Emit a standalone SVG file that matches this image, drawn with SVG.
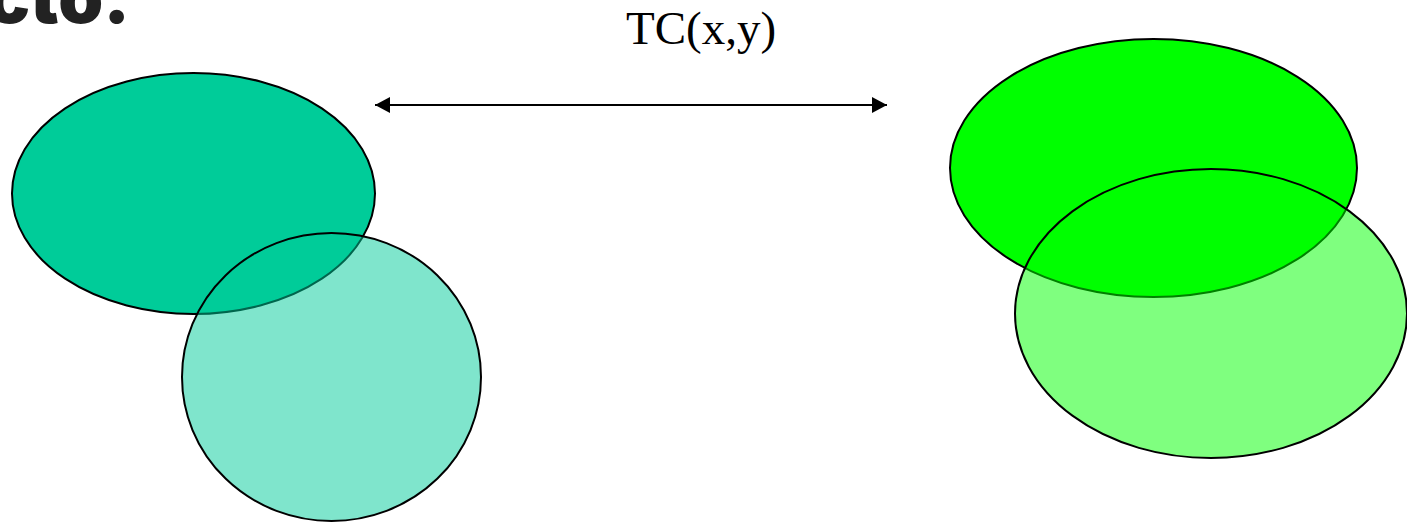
<svg xmlns="http://www.w3.org/2000/svg" width="1407" height="522" viewBox="0 0 1407 522">
<style>
.sh{stroke:#000;stroke-width:2}
.lbl{font-family:"Liberation Serif","Times New Roman",serif;font-size:47px;fill:#000}
.ttl{font-family:Inter,"Liberation Sans",sans-serif;font-weight:900;font-size:72px;fill:#222}
</style>
<defs>
<marker id="ah" viewBox="0 0 10 10" refX="10" refY="5" markerWidth="15" markerHeight="16" markerUnits="userSpaceOnUse" orient="auto-start-reverse" preserveAspectRatio="none">
<path d="M0,0 L10,5 L0,10 z" fill="#000"/>
</marker>
</defs>
<text class="ttl" x="130" y="23" text-anchor="end">cto.</text>
<g id="left-ellipse"><ellipse class="sh" cx="193.5" cy="193.5" rx="181.5" ry="120.5" fill="#00CC99"/></g>
<g id="left-circle"><ellipse class="sh" cx="331.5" cy="377" rx="149.5" ry="144" fill="#00CC99" fill-opacity="0.5"/></g>
<g id="right-ellipse"><ellipse class="sh" cx="1153.5" cy="168" rx="203.5" ry="129" fill="#00FF00"/></g>
<g id="right-ellipse2"><ellipse class="sh" cx="1211" cy="313.5" rx="196" ry="144.5" fill="#00FF00" fill-opacity="0.5"/></g>
<g id="connectors">
<line x1="375" y1="105" x2="887" y2="105" stroke="#000" stroke-width="2" marker-start="url(#ah)" marker-end="url(#ah)"/>
</g>
<text class="lbl" x="701" y="44" text-anchor="middle">TC(x,y)</text>
</svg>
